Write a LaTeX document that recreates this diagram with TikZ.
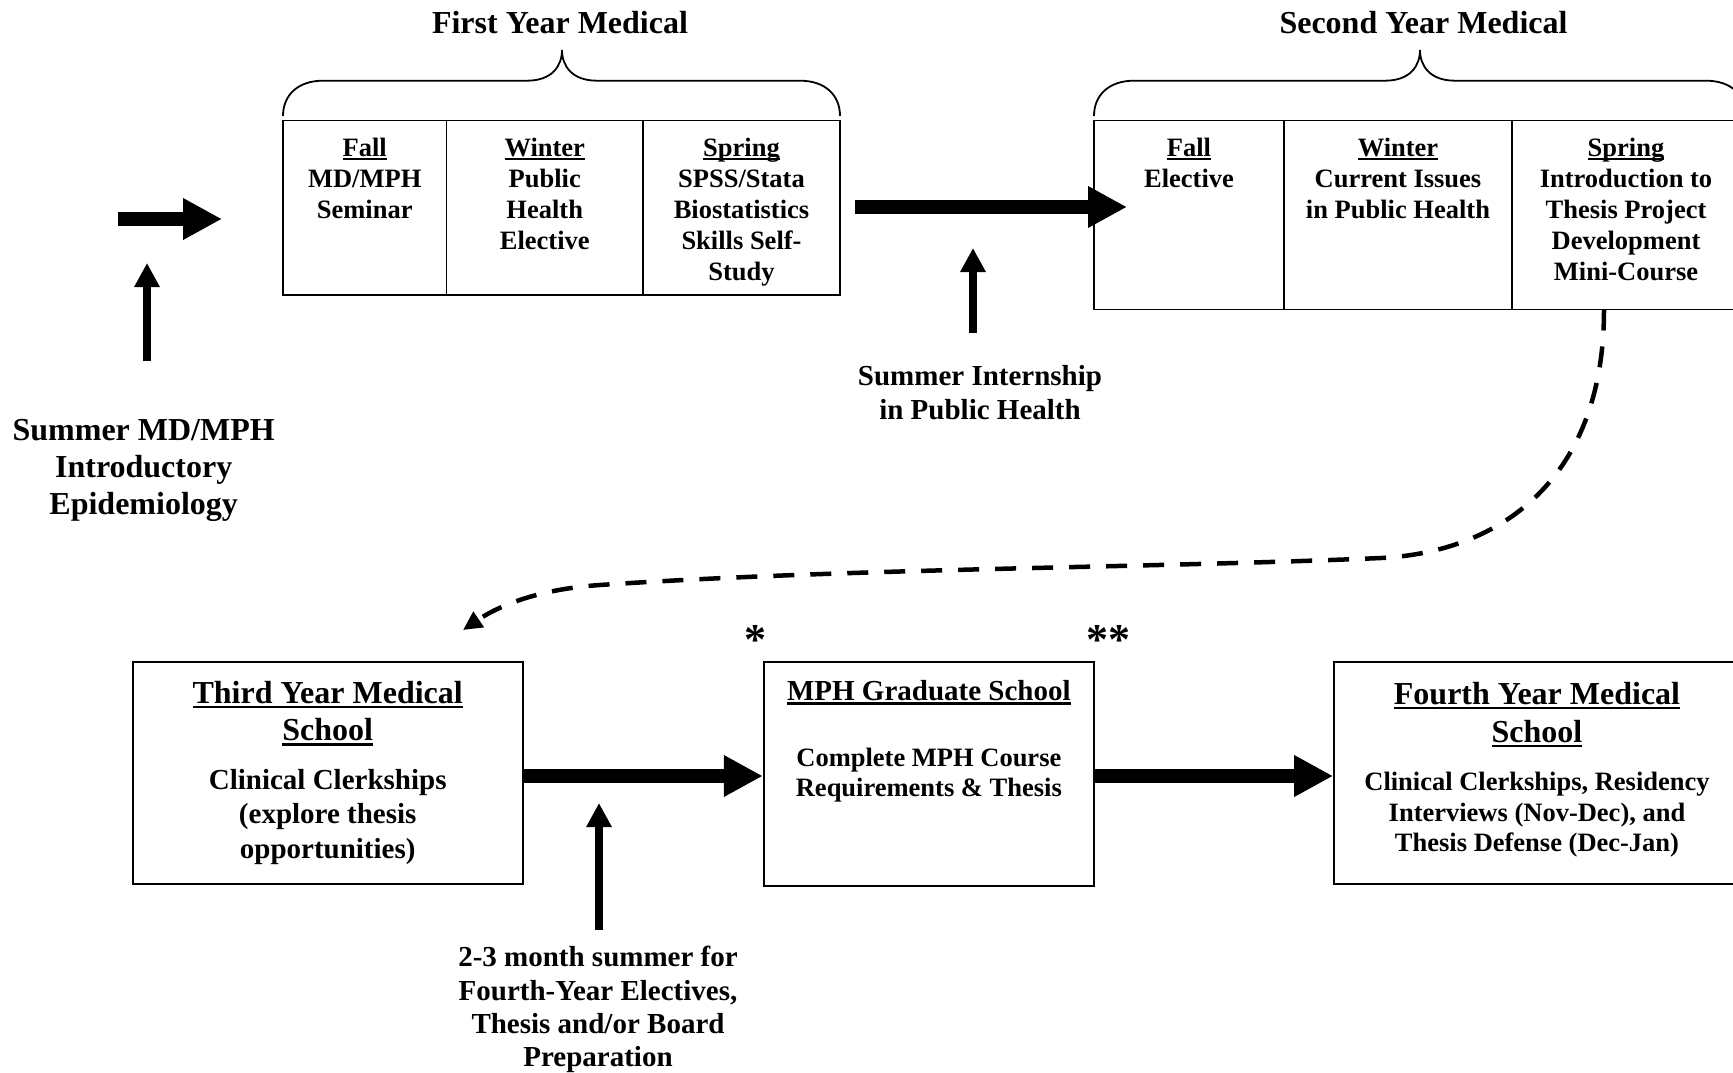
\documentclass[tikz,border=0pt]{standalone}
\usepackage{fontspec}
\setmainfont{Liberation Serif}
\usetikzlibrary{arrows.meta}
\newsavebox\ulbox
\newcommand\myul[1]{\sbox\ulbox{#1}\rlap{\rule[-0.16em]{\wd\ulbox}{0.075em}}\usebox\ulbox}
\tikzset{
  txt/.style={anchor=base, inner sep=0pt, font=\bfseries\fontsize{#1}{#1}\selectfont},
  frame/.style={draw, line width=1.8pt, inner sep=0pt},
  brace/.style={line width=1.8pt},
  bigarrow/.style={line width=13.5pt, -{Triangle[length=39pt,width=39pt]}},
  uparrow/.style={line width=8pt, -{Triangle[length=24pt,width=24pt]}},
  dasharrow/.style={line width=4.5pt, dash pattern=on 21pt off 16pt, -{Triangle[length=19pt,width=18pt]}},
  star/.style={inner sep=0pt, font=\bfseries\fontsize{44}{44}\selectfont}
}
\begin{document}
\begin{tikzpicture}[x=1pt,y=-1pt]
\useasboundingbox (0,0) rectangle (1733,1073);
\clip (0,0) rectangle (1733,1073);

% titles
\node[txt=32] (t1) at (560,34) {First Year Medical};
\node[txt=32] (t2) at (1423.5,34) {Second Year Medical};

% braces
\draw[brace] (283,116) .. controls (283,95) and (298,80.7) .. (323,80.7) -- (527,80.7)
  .. controls (552,80.7) and (562,66) .. (562,50) .. controls (562,66) and (572,80.7) .. (597,80.7)
  -- (800,80.7) .. controls (825,80.7) and (840,95) .. (840,116);
\draw[brace] (1094,116) .. controls (1094,95) and (1109,80.7) .. (1134,80.7) -- (1385,80.7)
  .. controls (1410,80.7) and (1420,66) .. (1420,50) .. controls (1420,66) and (1430,80.7) .. (1455,80.7)
  -- (1706,80.7) .. controls (1731,80.7) and (1746,95) .. (1746,116);

% first year cells
\node[frame, minimum width=163.5pt, minimum height=174.5pt] (y1fall) at (364.75,207.75) {};
\node[frame, minimum width=196.5pt, minimum height=174.5pt] (y1win) at (544.75,207.75) {};
\node[frame, minimum width=197pt, minimum height=174.5pt] (y1spr) at (741.5,207.75) {};
\node[txt=26.5] (a1) at (364.75,156) {\myul{Fall}};
\node[txt=26.5] (a2) at (364.75,187) {MD/MPH};
\node[txt=26.5] (a3) at (364.75,218) {Seminar};
\node[txt=26.5] (b1) at (544.75,156) {\myul{Winter}};
\node[txt=26.5] (b2) at (544.75,187) {Public};
\node[txt=26.5] (b3t) at (544.75,218) {Health};
\node[txt=26.5] (b4t) at (544.75,249) {Elective};
\node[txt=26.5] (c1) at (741.5,156) {\myul{Spring}};
\node[txt=26.5] (c2) at (741.5,187) {SPSS/Stata};
\node[txt=26.5] (c3) at (741.5,218) {Biostatistics};
\node[txt=26.5] (c4) at (741.5,249) {Skills Self-};
\node[txt=26.5] (c5) at (741.5,280) {Study};

% second year cells
\node[frame, minimum width=190pt, minimum height=189pt] (y2fall) at (1189,215) {};
\node[frame, minimum width=228pt, minimum height=189pt] (y2win) at (1398,215) {};
\node[frame, minimum width=228pt, minimum height=189pt] (y2spr) at (1626,215) {};
\node[txt=26.5] (d1) at (1189,156) {\myul{Fall}};
\node[txt=26.5] (d2) at (1189,187) {Elective};
\node[txt=26.5] (e1) at (1398,156) {\myul{Winter}};
\node[txt=26.5] (e2) at (1398,187) {Current Issues};
\node[txt=26.5] (e3) at (1398,218) {in Public Health};
\node[txt=26.5] (f1) at (1626,156) {\myul{Spring}};
\node[txt=26.5] (f2) at (1626,187) {Introduction to};
\node[txt=26.5] (f3) at (1626,218) {Thesis Project};
\node[txt=26.5] (f4) at (1626,249) {Development};
\node[txt=26.5] (f5) at (1626,280) {Mini-Course};

% left summer
\coordinate (la0) at (118,219);
\coordinate (la1) at (222,219);
\draw[bigarrow] (la0) -- (la1);
\coordinate (ua0) at (147,361);
\coordinate (ua1) at (147,263);
\draw[uparrow] (ua0) -- (ua1);
\node[txt=32] (s1) at (143.7,440) {Summer MD/MPH};
\node[txt=32] (s2) at (143.7,477) {Introductory};
\node[txt=32] (s3) at (143.7,514) {Epidemiology};

% middle summer
\coordinate (ma0) at (855,207);
\coordinate (ma1) at (1127,207);
\draw[bigarrow] (ma0) -- (ma1);
\coordinate (ub0) at (973,333);
\coordinate (ub1) at (973,248);
\draw[uparrow] (ub0) -- (ub1);
\node[txt=29] (i1) at (980,385) {Summer Internship};
\node[txt=29] (i2) at (980,419) {in Public Health};

% dashed connector
\coordinate (ds) at (1604,309.5);
\coordinate (de) at (463,630);
\draw[dasharrow] (ds) .. controls (1604,480) and (1500,552) .. (1381,558)
  .. controls (1150,568) and (850,568) .. (600,585)
  .. controls (540,589) and (500,605) .. (de);

% stars
\node[star] (st1) at (755,640) {*};
\node[star] (st2) at (1108.5,640) {**};

% bottom boxes
\node[frame, minimum width=390.2pt, minimum height=222pt] (b3) at (327.7,773) {};
\node[frame, minimum width=330.3pt, minimum height=224pt] (mph) at (928.85,774) {};
\node[frame, minimum width=406pt, minimum height=222pt] (b4) at (1537,773) {};

\node[txt=32] (g1) at (327.7,703) {\myul{Third Year Medical}};
\node[txt=32] (g2) at (327.7,740.5) {\myul{School}};
\node[txt=29] (g3) at (327.7,789) {Clinical Clerkships};
\node[txt=29] (g4) at (327.7,823.5) {(explore thesis};
\node[txt=29] (g5) at (327.7,858) {opportunities)};

\node[txt=29] (h1) at (928.85,700) {\myul{MPH Graduate School}};
\node[txt=26.5] (h2) at (928.85,766) {Complete MPH Course};
\node[txt=26.5] (h3) at (928.85,796) {Requirements \& Thesis};

\node[txt=32] (k1) at (1537,704) {\myul{Fourth Year Medical}};
\node[txt=32] (k2) at (1537,742) {\myul{School}};
\node[txt=26.5] (k3) at (1537,790.5) {Clinical Clerkships, Residency};
\node[txt=26.5] (k4) at (1537,821) {Interviews (Nov-Dec), and};
\node[txt=26.5] (k5) at (1537,851) {Thesis Defense (Dec-Jan)};

% bottom arrows
\coordinate (ay) at (0,776);
\draw[bigarrow] (b3.east |- ay) -- (mph.west |- ay);
\draw[bigarrow] (mph.east |- ay) -- (b4.west |- ay);
\coordinate (uc0) at (599,930);
\coordinate (uc1) at (599,803);
\draw[uparrow] (uc0) -- (uc1);
\node[txt=29] (p1) at (598,966.7) {2-3 month summer for};
\node[txt=29] (p2) at (598,1000) {Fourth-Year Electives,};
\node[txt=29] (p3) at (598,1033.3) {Thesis and/or Board};
\node[txt=29] (p4) at (598,1066.7) {Preparation};
\end{tikzpicture}
\end{document}
